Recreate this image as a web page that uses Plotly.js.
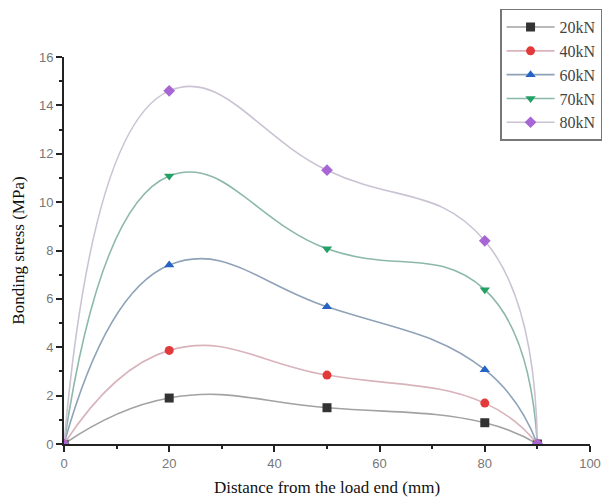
<!DOCTYPE html>
<html><head><meta charset="utf-8">
<script src="https://cdn.plot.ly/plotly-3.0.1.min.js"></script>
<style>html,body{margin:0;padding:0;background:#fff;}#chart{width:605px;height:503px;}</style>
</head><body><div id="chart"></div>
<script>
const distance = [0, 20, 50, 80, 90];
const s20 = [0, 1.9, 1.5, 0.88, 0];
const s40 = [0, 3.87, 2.85, 1.69, 0];
const s60 = [0, 7.4, 5.67, 3.07, 0];
const s70 = [0, 11.08, 8.07, 6.38, 0];
const s80 = [0, 14.6, 11.32, 8.4, 0];
const names = ['20kN', '40kN', '60kN', '70kN', '80kN'];
const series = [s20, s40, s60, s70, s80];
const lineColors = ['#a2a2a2', '#d9b3bb', '#8ea2b8', '#8cb8aa', '#cbc3d3'];
const markerColors = ['#333333', '#e23a3a', '#2563c4', '#23a066', '#a766d4'];
const symbols = ['square', 'circle', 'triangle-up', 'triangle-down', 'diamond'];

const traces = series.map((s, i) => ({
  x: distance, y: s, name: names[i], type: 'scatter', mode: 'lines+markers',
  line: {shape: 'spline', smoothing: 1.3, color: lineColors[i], width: 1.6},
  marker: {symbol: symbols[i], color: markerColors[i], size: 9}
}));

const tickFont = {family: 'Liberation Sans, Arial, sans-serif', size: 13, color: '#777'};
const layout = {
  width: 605, height: 503,
  margin: {l: 64, r: 15, t: 57, b: 59, autoexpand: false},
  paper_bgcolor: '#fff', plot_bgcolor: '#fff',
  showlegend: true,
  legend: {x: 0.829, y: 1.125, xanchor: 'left', yanchor: 'top', itemwidth: 48, entrywidth: 130,
    bordercolor: '#777', borderwidth: 1.5, bgcolor: '#fff',
    font: {family: 'Liberation Serif, Times New Roman, serif', size: 16, color: '#444'}},
  xaxis: {range: [0, 100], tickvals: [0, 20, 40, 60, 80, 100], showgrid: false, zeroline: false,
    showline: true, linecolor: '#222', linewidth: 2, ticks: 'outside', ticklen: 6, tickwidth: 2, tickcolor: '#222',
    minor: {dtick: 10, ticks: 'outside', ticklen: 3, tickwidth: 2, tickcolor: '#222'},
    tickfont: tickFont,
    title: {text: 'Distance from the load end (mm)', standoff: 12,
      font: {family: 'Liberation Serif, Times New Roman, serif', size: 17, color: '#111'}}},
  yaxis: {range: [0, 16], tickvals: [0, 2, 4, 6, 8, 10, 12, 14, 16], showgrid: false, zeroline: false,
    showline: true, linecolor: '#222', linewidth: 2, ticks: 'outside', ticklen: 6, tickwidth: 2, tickcolor: '#222',
    minor: {dtick: 1, ticks: 'outside', ticklen: 3, tickwidth: 2, tickcolor: '#222'},
    tickfont: tickFont,
    title: {text: 'Bonding stress (MPa)', standoff: 10,
      font: {family: 'Liberation Serif, Times New Roman, serif', size: 17, color: '#111'}}}
};
Plotly.newPlot('chart', traces, layout, {displayModeBar: false, staticPlot: true});
</script></body></html>
